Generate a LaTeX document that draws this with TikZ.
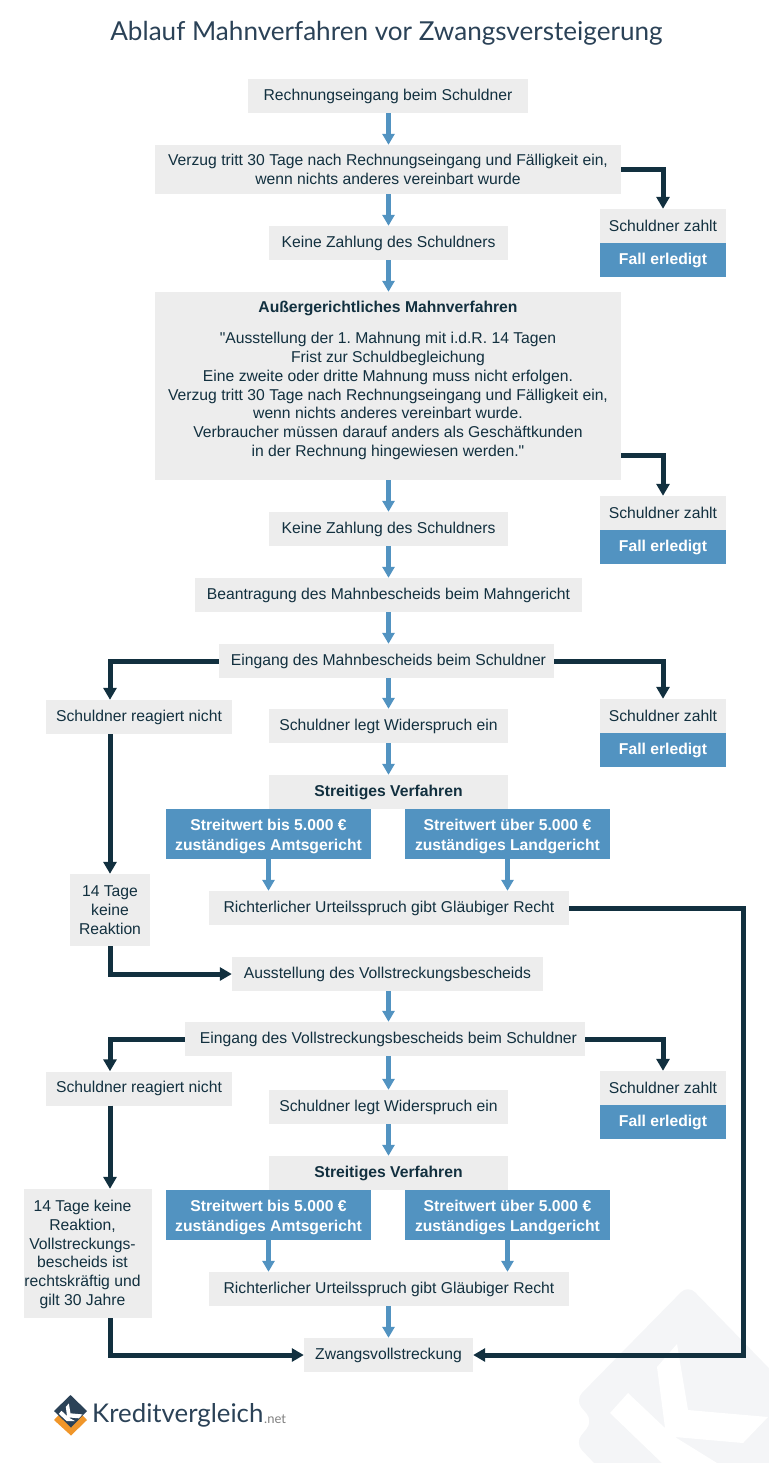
\documentclass[tikz,border=0pt]{standalone}
\usepackage{fontspec}
\setmainfont{Liberation Sans}
\newfontfamily\titlefont{Lato}
\newfontfamily\quotefont{Liberation Sans}
\usetikzlibrary{arrows.meta}
\definecolor{boxgrey}{HTML}{EDEDED}
\definecolor{kvblue}{HTML}{5293C1}
\definecolor{kvdark}{HTML}{12303F}
\definecolor{kvtitle}{HTML}{2B4257}
\definecolor{kvorange}{HTML}{F0962A}
\definecolor{kvmark}{HTML}{F4F5F7}
\tikzset{
	greybox/.style={rectangle, fill=boxgrey, text=kvdark, align=center, inner sep=0pt, font=\frenchspacing\fontsize{15.7}{19}\selectfont},
	bluebox/.style={greybox, fill=kvblue, text=white, font=\fontsize{15.7}{20}\selectfont\bfseries},
	bluearrow/.style={draw=kvblue, line width=5pt, -{Triangle[length=11pt,width=12pt]}},
	darkarrow/.style={draw=kvdark, line width=5pt, -{Triangle[length=12pt,width=13pt]}}
}
\newcommand{\topgap}{\rule{0pt}{16pt}}
\begin{document}
\begin{tikzpicture}[x=1pt,y=-1pt]
	\useasboundingbox (0,0) rectangle (768,1463);
	% watermark
	\fill[kvmark, rounded corners=10pt] (688,1285) -- (800,1400) -- (800,1490) -- (620,1490) -- (575,1443) -- (593,1421) -- (575,1400) -- cycle;
	\fill[white] (677,1344) -- (657,1367) -- (665,1428) -- (628,1393) -- (610,1413) -- (662,1463) -- (717,1463) -- (675,1437) -- (743,1443) -- (768,1417) -- (688,1410) -- cycle;

	\node[text=kvtitle, font=\titlefont\fontsize{26.1}{30}\selectfont] (title) at (386.5,33.5) {Ablauf Mahnverfahren vor Zwangsversteigerung};

	% middle column
	\node[greybox, minimum width=280pt, minimum height=34pt] (invoice) at (388,96) {Rechnungseingang beim Schuldner};
	\node[greybox, minimum width=466pt, minimum height=49pt] (delay) at (388,169.5) {Verzug tritt 30 Tage nach Rechnungseingang und Fälligkeit ein,\\wenn nichts anderes vereinbart wurde};
	\node[greybox, minimum width=239pt, minimum height=34pt] (nopay1) at (388.5,243) {Keine Zahlung des Schuldners};
	\node[greybox, minimum width=466pt, minimum height=188pt] (dunning) at (388,386) {};
	\node[text=kvdark, font=\fontsize{15.7}{19}\selectfont\bfseries] (dunninghead) at (388,308.5) {Außergerichtliches Mahnverfahren};
	\node[text=kvdark, align=center, font=\frenchspacing\fontsize{15.7}{18.9}\selectfont] (dunningtext) at (388,396) {{\quotefont"}Ausstellung der 1. Mahnung mit i.d.R. 14 Tagen\\Frist zur Schuldbegleichung\\Eine zweite oder dritte Mahnung muss nicht erfolgen.\\Verzug tritt 30 Tage nach Rechnungseingang und Fälligkeit ein,\\wenn nichts anderes vereinbart wurde.\\Verbraucher müssen darauf anders als Geschäftkunden\\in der Rechnung hingewiesen werden.{\quotefont"}};
	\node[greybox, minimum width=239pt, minimum height=34pt] (nopay2) at (388.5,529) {Keine Zahlung des Schuldners};
	\node[greybox, minimum width=387pt, minimum height=34pt] (request) at (388.5,595) {Beantragung des Mahnbescheids beim Mahngericht};
	\node[greybox, minimum width=335pt, minimum height=34pt] (notice) at (386.5,661) {\hspace*{4pt}Eingang des Mahnbescheids beim Schuldner};
	\node[greybox, minimum width=239pt, minimum height=34pt] (object1) at (388.5,726) {Schuldner legt Widerspruch ein};
	\node[greybox, minimum width=239pt, minimum height=34pt, font=\fontsize{15.7}{19}\selectfont\bfseries] (dispute1) at (388.5,792) {Streitiges Verfahren};
	\node[bluebox, minimum width=205pt, minimum height=50pt] (low1) at (268.5,834) {\topgap Streitwert bis 5.000 €\\zuständiges Amtsgericht};
	\node[bluebox, minimum width=205pt, minimum height=50pt] (high1) at (507.5,834) {\topgap Streitwert über 5.000 €\\zuständiges Landgericht};
	\node[greybox, minimum width=360pt, minimum height=34pt] (verdict1) at (389,908) {Richterlicher Urteilsspruch gibt Gläubiger Recht};
	\node[greybox, minimum width=311pt, minimum height=34pt] (writ) at (387.5,974) {Ausstellung des Vollstreckungsbescheids};
	\node[greybox, minimum width=400pt, minimum height=34pt] (writin) at (385,1039) {\hspace*{7pt}Eingang des Vollstreckungsbescheids beim Schuldner};
	\node[greybox, minimum width=239pt, minimum height=34pt] (object2) at (388.5,1107) {Schuldner legt Widerspruch ein};
	\node[greybox, minimum width=239pt, minimum height=34pt, font=\fontsize{15.7}{19}\selectfont\bfseries] (dispute2) at (388.5,1173) {Streitiges Verfahren};
	\node[bluebox, minimum width=205pt, minimum height=50pt] (low2) at (268.5,1215) {\topgap Streitwert bis 5.000 €\\zuständiges Amtsgericht};
	\node[bluebox, minimum width=205pt, minimum height=50pt] (high2) at (507.5,1215) {\topgap Streitwert über 5.000 €\\zuständiges Landgericht};
	\node[greybox, minimum width=360pt, minimum height=34pt] (verdict2) at (389,1289) {Richterlicher Urteilsspruch gibt Gläubiger Recht};
	\node[greybox, minimum width=169pt, minimum height=34pt] (enforce) at (388.5,1355) {Zwangsvollstreckung};

	% right column
	\foreach \name/\ypos in {one/226,two/513,three/716,four/1088}{
		\node[greybox, minimum width=126pt, minimum height=34pt] (pays\name) at (663,\ypos) {Schuldner zahlt};
		\node[bluebox, minimum width=126pt, minimum height=34pt] (done\name) at (663,\ypos+34) {Fall erledigt};
	}

	% left column
	\node[greybox, minimum width=186pt, minimum height=34pt] (silent1) at (139,717) {Schuldner reagiert nicht};
	\node[greybox, minimum width=80pt, minimum height=72pt] (wait1) at (110,910) {14 Tage\\keine\\Reaktion};
	\node[greybox, minimum width=186pt, minimum height=34pt] (silent2) at (139,1088.5) {Schuldner reagiert nicht};
	\node[greybox, minimum width=128pt, minimum height=129pt] (wait2) at (88,1253.5) {};
	\node[text=kvdark, align=center, inner sep=0pt, font=\frenchspacing\fontsize{15.7}{18.8}\selectfont] (wait2text) at (82.5,1254.5) {14 Tage keine\\Reaktion,\\Vollstreckungs-\\bescheids ist\\rechtskräftig und\\gilt 30 Jahre};

	% helper points
	\coordinate (dunningout) at (dunning.east |- 0,455);
	\coordinate (turn) at (743,908);
	\coordinate (leftdown) at (110,1318);

	% blue arrows
	\foreach \from/\to in {invoice/delay,delay/nopay1,nopay1/dunning,dunning/nopay2,nopay2/request,request/notice,object1/dispute1,notice/object1,writ/writin,writin/object2,object2/dispute2,verdict2/enforce}{
		\draw[bluearrow] (388.5,0 |- \from.south) -- (388.5,0 |- \to.north);
	}
	\foreach \from/\to in {low1/verdict1,high1/verdict1,low2/verdict2,high2/verdict2}{
		\draw[bluearrow] (\from.south) -- (\from.south |- \to.north);
	}

	% dark arrows
	\draw[darkarrow] (delay.east) -| (paysone.north);
	\draw[darkarrow] (dunningout) -| (paystwo.north);
	\draw[darkarrow] (notice.east) -| (paysthree.north);
	\draw[darkarrow] (writin.east) -| (paysfour.north);
	\draw[darkarrow] (notice.west) -| (silent1.north -| wait1.north);
	\draw[darkarrow] (silent1.south -| wait1.north) -- (wait1.north);
	\draw[darkarrow] (wait1.south) |- (writ.west);
	\draw[darkarrow] (writin.west) -| (silent2.north -| wait1.north);
	\draw[darkarrow] (silent2.south -| wait1.north) -- (wait2.north -| wait1.north);
	\draw[darkarrow] (leftdown) |- (enforce.west);
	\draw[darkarrow] (verdict1.east) -- (turn) |- (enforce.east);

	% logo
	\fill[kvorange] (54,1420) -- (70.5,1403) -- (87,1420) -- (71,1435.5) -- cycle;
	\fill[kvtitle] (54,1411) -- (70.5,1395) -- (87,1411) -- (71,1427.5) -- cycle;
	\fill[white] (68.85,1403.4) -- (65.85,1406.9) -- (67,1416) -- (61.5,1410.8) -- (58.8,1413.8) -- (66.6,1421) -- (74.9,1421) -- (68.5,1417.4) -- (78.8,1418.3) -- (82.5,1414.4) -- (70.5,1413.3) -- cycle;
	\node[text=kvtitle, anchor=base west, inner sep=0pt, font=\titlefont\fontsize{25.8}{30}\selectfont] (brand) at (92,1422.5) {Kreditvergleich};
	\node[text=gray, anchor=base west, inner sep=0pt, font=\titlefont\fontsize{13}{14}\selectfont] (brandnet) at (264,1423) {.net};
\end{tikzpicture}
\end{document}
